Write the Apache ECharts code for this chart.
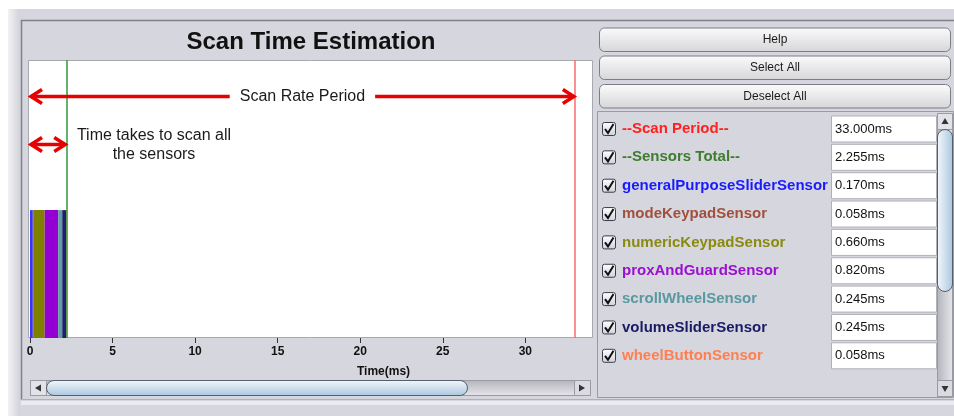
<!DOCTYPE html>
<html>
<head>
<meta charset="utf-8">
<title>Scan Time Estimation</title>
<script src="https://cdn.jsdelivr.net/npm/echarts@6/dist/echarts.min.js"></script>
<style>
html, body { margin: 0; padding: 0; background: #fff; }
#main { width: 954px; height: 416px; }
</style>
</head>
<body>
<div id="main"></div>
<script>
// Data
var sensorNames = ['generalPurposeSliderSensor', 'modeKeypadSensor', 'numericKeypadSensor',
	'proxAndGuardSensor', 'scrollWheelSensor', 'volumeSliderSensor', 'wheelButtonSensor'];
var sensorTimes = [0.170, 0.058, 0.660, 0.820, 0.245, 0.245, 0.058];
var scanPeriod = 33.0;
var sensorsTotal = 2.255;
var listNames = ['--Scan Period--', '--Sensors Total--'].concat(sensorNames);
var listValues = [scanPeriod, sensorsTotal].concat(sensorTimes);
var xTickInterval = 5;
var xMax = 34.1;

// Colours
var sensorColors = ['#3535ff', '#a0522d', '#808000', '#9400d3', '#5f9ea0', '#1e1e70', '#ff7f50'];
var labelColors = ['#ff2020', '#3d7d2d', '#1a1aff', '#a0503c', '#8a8a10', '#9a10d0', '#5a98a0', '#1a1a66', '#ff7f50'];
var FONT = '"Liberation Sans", Arial, sans-serif';

// stacked segments [start, end]
var segments = [];
var acc = 0;
sensorTimes.forEach(function (t, i) {
	segments.push([acc, acc + t]);
	acc += t;
});

var chart = echarts.init(document.getElementById('main'), null, { renderer: 'canvas' });

chart.setOption({
	backgroundColor: '#ffffff',
	animation: false,
	grid: { left: 30, top: 60, width: 563, height: 278, show: false },
	xAxis: {
		type: 'value',
		min: 0,
		max: xMax,
		interval: xTickInterval,
		axisLine: { show: false },
		axisTick: { show: true, length: 5, lineStyle: { color: '#333' } },
		splitLine: { show: false },
		axisLabel: { showMaxLabel: false, margin: 8, color: '#111', fontWeight: 'bold', fontSize: 12, fontFamily: FONT },
		name: 'Time(ms)',
		nameLocation: 'middle',
		nameGap: 28,
		nameTextStyle: { color: '#111', fontWeight: 'bold', fontSize: 12, fontFamily: FONT, padding: [0, 0, 0, 144] }
	},
	yAxis: { type: 'value', min: 0, max: 100, show: false },
	series: [{
		type: 'custom',
		data: segments,
		encode: { x: [0, 1] },
		z: 3,
		renderItem: function (params, api) {
			var p0 = api.coord([api.value(0), 46]);
			var p1 = api.coord([api.value(1), 0]);
			return {
				type: 'rect',
				shape: { x: p0[0], y: p0[1], width: p1[0] - p0[0], height: p1[1] - p0[1] },
				style: { fill: sensorColors[params.dataIndex] }
			};
		},
		markLine: {
			silent: true,
			symbol: 'none',
			label: { show: false },
			data: [
				{ xAxis: scanPeriod, lineStyle: { color: '#ff6a6a', width: 1.5, type: 'solid' } },
				{ xAxis: sensorsTotal, lineStyle: { color: '#2e9a3a', width: 1.5, type: 'solid' } }
			]
		}
	}]
});

function px(v) {
	return chart.convertToPixel({ xAxisIndex: 0 }, v);
}

var els = [];

// window frame
els.push({ type: 'rect', z: -10, shape: { x: 8, y: 9, width: 946, height: 407 }, style: { fill: '#d6d6de' } });
els.push({ type: 'rect', z: -9, shape: { x: 8, y: 9, width: 12, height: 407 },
	style: { fill: new echarts.graphic.LinearGradient(0, 0, 1, 0, [{ offset: 0, color: '#f2f2f6' }, { offset: 1, color: '#d2d2da' }]) } });
els.push({ type: 'line', z: -8, shape: { x1: 21, y1: 20.5, x2: 954, y2: 20.5 }, style: { stroke: '#80808a', lineWidth: 1.5 } });
els.push({ type: 'line', z: -8, shape: { x1: 21.5, y1: 20, x2: 21.5, y2: 400 }, style: { stroke: '#80808a', lineWidth: 1.5 } });
els.push({ type: 'line', z: -8, shape: { x1: 21, y1: 399.5, x2: 954, y2: 399.5 }, style: { stroke: '#b0b0b8', lineWidth: 1 } });
els.push({ type: 'rect', z: -8, shape: { x: 21, y: 401, width: 933, height: 4 }, style: { fill: '#ececf0' } });

// plot background
els.push({ type: 'rect', z: -5, shape: { x: 28.5, y: 60.5, width: 564, height: 277 }, style: { fill: '#ffffff', stroke: '#a8a8b0', lineWidth: 1 } });

// title
els.push({ type: 'text', z: 5, x: 311, y: 42, style: { text: 'Scan Time Estimation', font: 'bold 24px ' + FONT, fill: '#111', align: 'center', verticalAlign: 'middle' } });

// horizontal scrollbar
els.push({ type: 'rect', z: -4, shape: { x: 30.5, y: 380.5, width: 560, height: 15 },
	style: { fill: new echarts.graphic.LinearGradient(0, 0, 0, 1, [{ offset: 0, color: '#b4b4bc' }, { offset: 1, color: '#e6e6ea' }]), stroke: '#9a9aa2' } });
els.push({ type: 'rect', z: -3, shape: { x: 30.5, y: 380.5, width: 16, height: 15 }, style: { fill: '#e2e2e8', stroke: '#9a9aa2' } });
els.push({ type: 'polygon', z: -2, shape: { points: [[35, 388], [41, 384.5], [41, 391.5]] }, style: { fill: '#333' } });
els.push({ type: 'rect', z: -3, shape: { x: 46.5, y: 380.5, width: 421, height: 15, r: [8, 8, 8, 8] },
	style: { fill: new echarts.graphic.LinearGradient(0, 0, 0, 1, [{ offset: 0, color: '#f4f8fc' }, { offset: 1, color: '#a9c6de' }]), stroke: '#56606c' } });
els.push({ type: 'rect', z: -3, shape: { x: 574.5, y: 380.5, width: 16, height: 15 }, style: { fill: '#dadae0', stroke: '#9a9aa2' } });
els.push({ type: 'polygon', z: -2, shape: { points: [[585, 388], [579, 384.5], [579, 391.5]] }, style: { fill: '#333' } });

// buttons
['Help', 'Select All', 'Deselect All'].forEach(function (t, i) {
	var y = [28, 56, 84.5][i];
	els.push({ type: 'rect', z: -3, shape: { x: 599.5, y: y, width: 351, height: 23.5, r: 5 },
		style: { fill: new echarts.graphic.LinearGradient(0, 0, 0, 1, [{ offset: 0, color: '#fbfbfb' }, { offset: 1, color: '#d6d6da' }]), stroke: '#7c7c84' } });
	els.push({ type: 'text', z: -2, x: 775, y: y + 12, style: { text: t, font: '12px ' + FONT, fill: '#1a1a1a', align: 'center', verticalAlign: 'middle' } });
});

// list panel
els.push({ type: 'rect', z: -4, shape: { x: 597.5, y: 111.5, width: 356, height: 286 }, style: { fill: 'none', stroke: '#9a9aa2' } });
listNames.forEach(function (name, i) {
	var c = 129 + i * 28.35;
	els.push({ type: 'rect', z: -3, shape: { x: 602.5, y: c - 6.5, width: 13, height: 13, r: 2 },
		style: { fill: new echarts.graphic.LinearGradient(0, 0, 0, 1, [{ offset: 0, color: '#ffffff' }, { offset: 1, color: '#cdd2da' }]), stroke: '#3c3c46' } });
	els.push({ type: 'polyline', z: -2, shape: { points: [[605, c], [608, c + 4], [613.5, c - 5]] }, style: { stroke: '#111', lineWidth: 2 } });
	els.push({ type: 'text', z: -2, x: 622, y: c, style: { text: name, font: 'bold 15px ' + FONT, fill: labelColors[i], verticalAlign: 'middle' } });
	els.push({ type: 'rect', z: -3, shape: { x: 831.5, y: c - 13, width: 105, height: 26 }, style: { fill: '#ffffff', stroke: '#b0b0b8' } });
	els.push({ type: 'text', z: -2, x: 835, y: c, style: { text: listValues[i].toFixed(3) + 'ms', font: '13px ' + FONT, fill: '#111', verticalAlign: 'middle' } });
});

// vertical scrollbar
els.push({ type: 'rect', z: -3, shape: { x: 937.5, y: 113.5, width: 15, height: 283 },
	style: { fill: new echarts.graphic.LinearGradient(0, 0, 1, 0, [{ offset: 0, color: '#b4b4bc' }, { offset: 1, color: '#e6e6ea' }]), stroke: '#9a9aa2' } });
els.push({ type: 'rect', z: -2, shape: { x: 937.5, y: 113.5, width: 15, height: 16 }, style: { fill: '#e2e2e8', stroke: '#9a9aa2' } });
els.push({ type: 'polygon', z: -1, shape: { points: [[945, 118], [941.5, 124], [948.5, 124]] }, style: { fill: '#333' } });
els.push({ type: 'rect', z: -2, shape: { x: 937.5, y: 129.5, width: 15, height: 162, r: [8, 8, 8, 8] },
	style: { fill: new echarts.graphic.LinearGradient(0, 0, 1, 0, [{ offset: 0, color: '#f4f8fc' }, { offset: 1, color: '#a9c6de' }]), stroke: '#56606c' } });
els.push({ type: 'rect', z: -2, shape: { x: 937.5, y: 380.5, width: 15, height: 16 }, style: { fill: '#dadae0', stroke: '#9a9aa2' } });
els.push({ type: 'polygon', z: -1, shape: { points: [[945, 392], [941.5, 386], [948.5, 386]] }, style: { fill: '#333' } });

// annotation arrows
var ARROW = '#e60000';
function arrowHead(x, y, dir) {
	return { type: 'polyline', z: 10, shape: { points: [[x + dir * 11, y - 7], [x, y], [x + dir * 11, y + 7]] }, style: { stroke: ARROW, lineWidth: 3.5, lineJoin: 'miter' } };
}
var x0 = px(0);
var xScan = px(scanPeriod);
var xTotal = px(sensorsTotal);
var yScan = 96.5;
var yTime = 144.5;

els.push({ type: 'line', z: 10, shape: { x1: x0 + 1, y1: yScan, x2: xScan - 1, y2: yScan }, style: { stroke: ARROW, lineWidth: 3.5 } });
els.push(arrowHead(x0 + 1, yScan, 1));
els.push(arrowHead(xScan - 1, yScan, -1));
els.push({ type: 'text', z: 11, x: (x0 + xScan) / 2, y: yScan, style: { text: 'Scan Rate Period', font: '16px ' + FONT, fill: '#1a1a1a', align: 'center', verticalAlign: 'middle', backgroundColor: '#ffffff', padding: [2, 10] } });

els.push({ type: 'line', z: 10, shape: { x1: x0 + 1, y1: yTime, x2: xTotal - 2, y2: yTime }, style: { stroke: ARROW, lineWidth: 3.5 } });
els.push(arrowHead(x0 + 1, yTime, 1));
els.push(arrowHead(xTotal - 2, yTime, -1));
els.push({ type: 'text', z: 11, x: 154, y: 145, style: { text: 'Time takes to scan all\nthe sensors', font: '16px ' + FONT, fill: '#1a1a1a', align: 'center', verticalAlign: 'middle', lineHeight: 19 } });

chart.setOption({ graphic: { elements: els } });

window.addEventListener('resize', chart.resize);
</script>
</body>
</html>
